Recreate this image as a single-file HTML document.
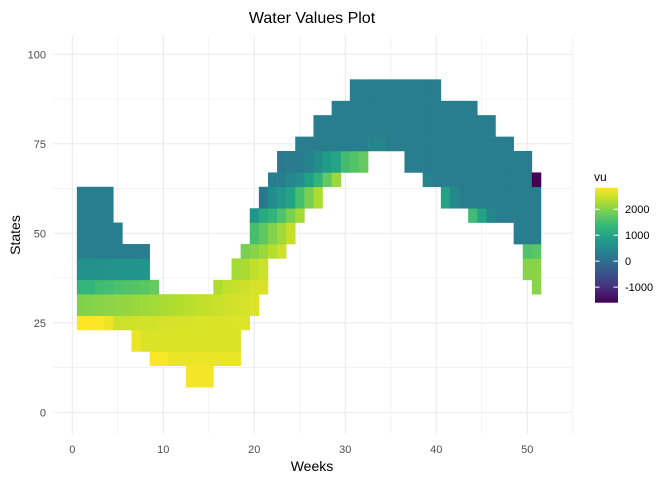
<!DOCTYPE html>
<html><head><meta charset="utf-8"><style>
body{margin:0;background:#fff;}
svg text{font-family:"Liberation Sans",sans-serif;}
</style></head><body>
<svg id="chart" width="672" height="480" viewBox="0 0 672 480" xmlns="http://www.w3.org/2000/svg">
<text x="312" y="23" text-anchor="middle" font-size="16" fill="#000">Water Values Plot</text>
<g id="grid"></g>
<g id="tiles"></g>
<g id="axes"></g>
<text x="312" y="471" text-anchor="middle" font-size="14" fill="#000">Weeks</text>
<text transform="translate(20,235) rotate(-90)" text-anchor="middle" font-size="14" fill="#000">States</text>
<g id="legend"></g>
</svg>
<script>
// band lower/upper state bounds, first week, values per consecutive week
const bandLo = [7,13,17,23,27,33,33,33,37,37,37,43,43,43,47,47,47,53,53,53,57,57,57,63,63,63,67,67,73,77,83,87];
const bandHi = [13,17,23,27,33,37,37,37,43,43,43,47,47,47,53,53,53,57,57,57,63,63,63,67,67,67,73,73,77,83,87,93];
const startWeek = [13,9,7,1,1,1,16,51,1,18,50,1,19,50,1,20,49,1,20,44,1,21,41,22,39,51,23,37,25,27,29,31];
const vu = [
 [2760,2760,2760],
 [2900,2810,2700,2700,2700,2700,2700,2700,2700,2700],
 [2700,2600,2600,2600,2600,2600,2600,2600,2600,2600,2600,2600],
 [2900,2900,2810,2725,2480,2500,2520,2540,2550,2560,2570,2580,2580,2590,2590,2600,2600,2610,2610],
 [1980,2000,2030,2060,2090,2120,2150,2180,2220,2260,2300,2340,2380,2420,2450,2480,2510,2540,2570,2600],
 [1300,1330,1440,1480,1545,1590,1640,1700,1765],
 [2300,2420,2470,2510,2560,2580],
 [2030],
 [620,640,650,660,680,690,700,720],
 [2225,2260,2420,2500],
 [2030,2030],
 [280,280,280,280,280,280,280,280],
 [1920,2030,2160,2330,2510],
 [1590,1680],
 [280,280,280,280,280],
 [1500,1720,1990,2200,2460],
 [280,280,280],
 [280,280,280,280],
 [715,1100,1280,1590,1920,2225],
 [1440,950,480,280,280,280,280,280],
 [280,280,280,280],
 [170,560,750,960,1500,1920,2290],
 [960,480,280,280,280,280,280,280,280,280,280],
 [280,300,470,600,900,1280,1765,2160],
 [420,280,280,280,280,280,280,280,280,280,280,280],
 [-1600],
 [200,230,260,370,580,850,1000,1470,1620,1765],
 [280,280,280,280,280,280,280,280,280,280,280,280,280,280],
 [280,280,280,280,280,280,280,280,420,440,280,280,280,280,280,280,280,280,280,280,280,280,280,280],
 [280,280,280,280,280,280,280,280,280,280,280,280,280,280,280,280,280,280,280,280],
 [280,280,280,280,280,280,280,280,280,280,280,280,280,280,280,280],
 [280,280,280,280,280,280,280,280,280,280]
];
const xTicks = [0,10,20,30,40,50];
const yTicks = [0,25,50,75,100];
const legendTicks = [-1000,0,1000,2000];
const vMin = -1600, vMax = 2830;

const NS = "http://www.w3.org/2000/svg";
const px0 = 53, px1 = 572, py0 = 36, py1 = 434;
const xs = w => 72.3 + w * 9.1;
const ys = s => 412.3 - s * 3.58;
const vir = ["#440154","#482878","#3e4a89","#31688e","#26828e","#1f9e89","#35b779","#6dcd59","#b4de2c","#fde725"];
function hex(c){return [1,3,5].map(i=>parseInt(c.substr(i,2),16));}
function color(v){
  let t = Math.max(0, Math.min(1, (v - vMin) / (vMax - vMin))) * 9;
  const i = Math.min(8, Math.floor(t)), f = t - i;
  const a = hex(vir[i]), b = hex(vir[i+1]);
  return "rgb(" + a.map((x,k)=>Math.round(x + (b[k]-x)*f)).join(",") + ")";
}
function mk(tag, attrs, parent){const e=document.createElementNS(NS,tag);for(const k in attrs)e.setAttribute(k,attrs[k]);parent.appendChild(e);return e;}

const grid = document.getElementById("grid");
for (let w = -0; w <= 55; w += 5) {
  const l = mk("line", {x1:xs(w),x2:xs(w),y1:py0,y2:py1,stroke:"#ebebeb","stroke-width":w%10===0?1.1:0.6}, grid);
  
  
}
for (let s = -0; s <= 100; s += 12.5) {
  const l = mk("line", {x1:px0,x2:px1,y1:ys(s),y2:ys(s),stroke:"#ebebeb","stroke-width":s%25===0?1.1:0.6}, grid);
  
  
}

const tiles = document.getElementById("tiles");
for (let b = 0; b < vu.length; b++) {
  for (let j = 0; j < vu[b].length; j++) {
    const w = startWeek[b] + j;
    const r = mk("rect", {x:xs(w-0.5), y:ys(bandHi[b]), width:xs(w+0.5)-xs(w-0.5)+0.3, height:ys(bandLo[b])-ys(bandHi[b])+0.3, fill:color(vu[b][j])}, tiles);
    
    
  }
}

const axes = document.getElementById("axes");
xTicks.forEach(t => {
  const e = mk("text", {x:xs(t), y:453, "text-anchor":"middle", "font-size":"11", fill:"#4d4d4d"}, axes);
  e.textContent = t;
  
  
});
yTicks.forEach(t => {
  const e = mk("text", {x:46, y:ys(t)+4, "text-anchor":"end", "font-size":"11", fill:"#4d4d4d"}, axes);
  e.textContent = t;
  
  
});

const lg = document.getElementById("legend");
const lt = mk("text", {x:594, y:181, "font-size":"12", fill:"#000"}, lg);
lt.textContent = "vu";


const defs = mk("defs", {}, lg);
const grad = mk("linearGradient", {id:"vg", x1:"0", y1:"1", x2:"0", y2:"0"}, defs);
vir.forEach((c,i) => mk("stop", {offset:(i/9), "stop-color":c}, grad));
const lTop = 187.7, lBot = 302.7;
const ly = v => lBot - (v - vMin) / (vMax - vMin) * (lBot - lTop);
const bar = mk("rect", {x:595, y:lTop, width:23, height:lBot-lTop, fill:"url(#vg)"}, lg);


legendTicks.forEach(t => {
  mk("line", {x1:595, x2:599.5, y1:ly(t), y2:ly(t), stroke:"#fff", "stroke-width":1}, lg);
  mk("line", {x1:613.5, x2:618, y1:ly(t), y2:ly(t), stroke:"#fff", "stroke-width":1}, lg);
  const e = mk("text", {x:625, y:ly(t)+4, "font-size":"11", fill:"#000"}, lg);
  e.textContent = t;
  
  
});
</script>
</body></html>
